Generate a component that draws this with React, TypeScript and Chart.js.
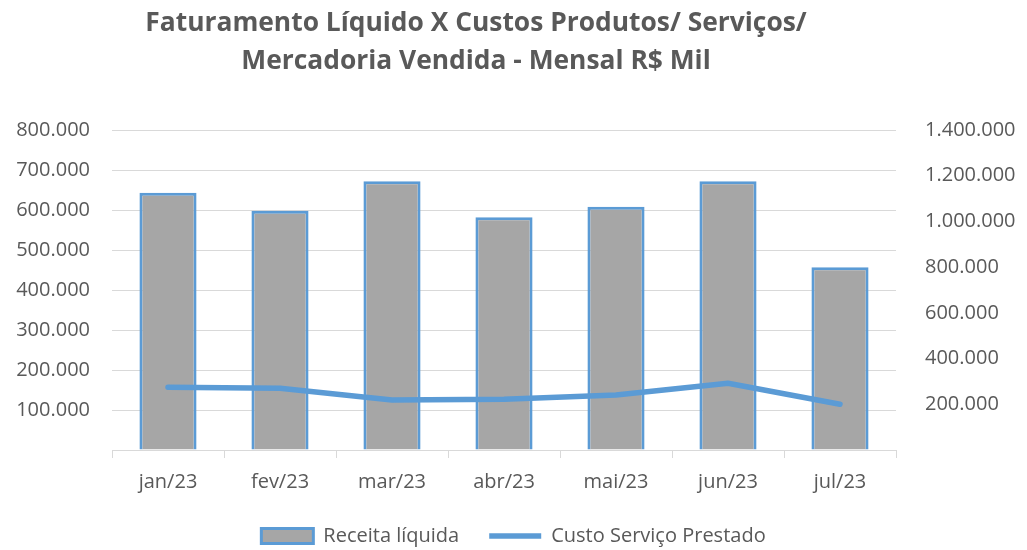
import React, { useEffect, useRef } from "react";
import { Chart, registerables } from "chart.js";

Chart.register(...registerables);

const titleLines = [
  "Faturamento Líquido X Custos Produtos/ Serviços/",
  "Mercadoria Vendida - Mensal R$ Mil",
];
const categories = ["jan/23", "fev/23", "mar/23", "abr/23", "mai/23", "jun/23", "jul/23"];
const receitaLiquida = [643000, 598000, 672000, 582000, 608000, 672000, 457000];
const custoServico = [274000, 270000, 219000, 222000, 241000, 292000, 200000];
const seriesNames = ["Receita líquida", "Custo Serviço Prestado"];

const FONT = "'Open Sans', 'Noto Sans', sans-serif";
const TEXT = "#595959";
const BLUE = "#5b9bd5";
const GRID = "#d9d9d9";

const fmt = (v: number) => String(Math.round(v)).replace(/\B(?=(\d{3})+(?!\d))/g, ".");

const titlePlugin = {
  id: "customTitle",
  afterDraw(chart: any) {
    const ctx = chart.ctx as CanvasRenderingContext2D;
    ctx.save();
    ctx.fillStyle = TEXT;
    ctx.textAlign = "center";
    ctx.textBaseline = "alphabetic";
    let size = 26;
    ctx.font = `bold ${size}px ${FONT}`;
    const w = ctx.measureText(titleLines[0]).width;
    size = size * 662 / w;
    ctx.font = `bold ${size}px ${FONT}`;
    ctx.fillText(titleLines[0], 476, 31);
    ctx.fillText(titleLines[1], 476, 69);
    ctx.restore();
  },
};

export default function App() {
  const ref = useRef<HTMLCanvasElement>(null);
  useEffect(() => {
    if (!ref.current) return;
    const chart = new Chart(ref.current, {
      type: "bar",
      data: {
        labels: categories,
        datasets: [
          {
            type: "line",
            label: seriesNames[1],
            data: custoServico,
            yAxisID: "y1",
            borderColor: BLUE,
            backgroundColor: BLUE,
            borderWidth: 5.5,
            pointRadius: 0,
            pointStyle: "line",
            tension: 0,
            borderCapStyle: "round",
            borderJoinStyle: "round",
            order: 0,
          } as any,
          {
            type: "bar",
            label: seriesNames[0],
            data: receitaLiquida,
            yAxisID: "y",
            backgroundColor: "#a6a6a6",
            borderColor: BLUE,
            borderWidth: 3,
            pointStyle: "rect",
            barPercentage: 0.51,
            categoryPercentage: 1,
            order: 1,
          } as any,
        ],
      },
      options: {
        responsive: false,
        animation: false,
        layout: { padding: { top: 130, left: 0, right: 0, bottom: 0 } },
        plugins: {
          title: { display: false },
          tooltip: { enabled: false },
          legend: {
            position: "bottom",
            reverse: true,
            labels: {
              usePointStyle: true,
              pointStyleWidth: 52,
              boxHeight: 15,
              padding: 30,
              color: TEXT,
              font: { family: FONT, size: 20 },
            },
          },
        },
        scales: {
          x: {
            grid: { display: true, drawOnChartArea: false, drawTicks: true, tickLength: 8, color: GRID, offset: true },
            border: { display: true, color: GRID },
            ticks: { color: TEXT, font: { family: FONT, size: 20 }, padding: 12 },
            afterFit: (s: any) => { s.height = 46; },
          },
          y: {
            position: "left",
            min: 0,
            max: 800000,
            grid: { color: GRID, lineWidth: 1, drawTicks: false },
            border: { display: false },
            ticks: {
              stepSize: 100000,
              color: TEXT,
              font: { family: FONT, size: 20 },
              padding: 22,
              callback: (v: any) => (Number(v) === 0 ? "" : fmt(Number(v))),
            },
            afterFit: (s: any) => { s.width = 112; },
          },
          y1: {
            position: "right",
            min: 0,
            max: 1400000,
            grid: { drawOnChartArea: false, drawTicks: false },
            border: { display: false },
            ticks: {
              stepSize: 200000,
              color: TEXT,
              font: { family: FONT, size: 20 },
              padding: 29,
              callback: (v: any) => (Number(v) === 0 ? "" : fmt(Number(v))),
            },
            afterFit: (s: any) => { s.width = 131; },
          },
        },
      },
      plugins: [titlePlugin],
    });
    return () => chart.destroy();
  }, []);
  return (
    <div style={{ position: "fixed", left: 0, top: 0, width: 1027, height: 550, overflow: "hidden", background: "#fff" }}>
      <canvas ref={ref} width={1027} height={556} style={{ display: "block", width: 1027, height: 556 }} />
    </div>
  );
}
